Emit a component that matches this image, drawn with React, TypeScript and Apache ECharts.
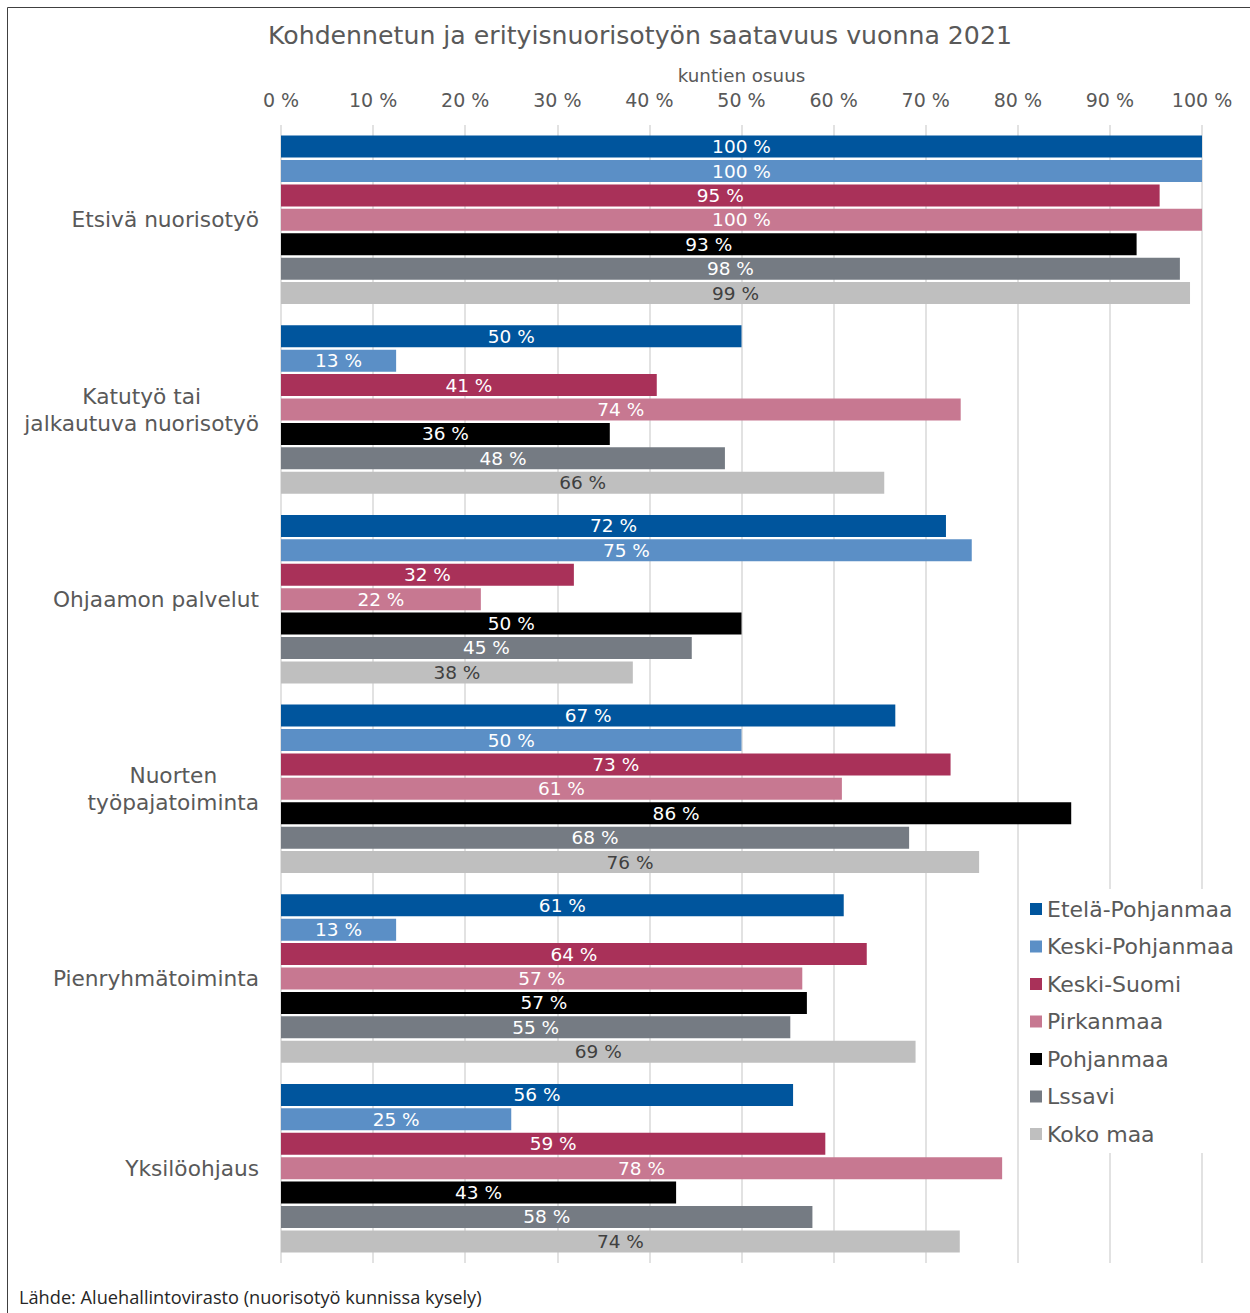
import React, { useEffect, useRef } from "react";
import * as echarts from "echarts";

const titleText = "Kohdennetun ja erityisnuorisotyön saatavuus vuonna 2021";
const axisName = "kuntien osuus";
const sourceText = "Lähde: Aluehallintovirasto (nuorisotyö kunnissa kysely)";

const categories = [
  "Etsivä nuorisotyö",
  "Katutyö tai\njalkautuva nuorisotyö",
  "Ohjaamon palvelut",
  "Nuorten\ntyöpajatoiminta",
  "Pienryhmätoiminta",
  "Yksilöohjaus",
];

const seriesNames = [
  "Etelä-Pohjanmaa",
  "Keski-Pohjanmaa",
  "Keski-Suomi",
  "Pirkanmaa",
  "Pohjanmaa",
  "Lssavi",
  "Koko maa",
];

const etelaPohjanmaa = [100, 50, 72.2, 66.7, 61.1, 55.6];
const keskiPohjanmaa = [100, 12.5, 75, 50, 12.5, 25];
const keskiSuomi = [95.4, 40.8, 31.8, 72.7, 63.6, 59.1];
const pirkanmaa = [100, 73.8, 21.7, 60.9, 56.6, 78.3];
const pohjanmaa = [92.9, 35.7, 50, 85.8, 57.1, 42.9];
const lssavi = [97.6, 48.2, 44.6, 68.2, 55.3, 57.7];
const kokoMaa = [98.7, 65.5, 38.2, 75.8, 68.9, 73.7];

const seriesData = [etelaPohjanmaa, keskiPohjanmaa, keskiSuomi, pirkanmaa, pohjanmaa, lssavi, kokoMaa];

const colors = ["#00559D", "#5B8FC6", "#A93159", "#C77891", "#000000", "#757B83", "#BFBFBF"];
const labelColors = ["#ffffff", "#ffffff", "#ffffff", "#ffffff", "#ffffff", "#ffffff", "#404040"];

const FONT = "'DejaVu Sans', Verdana, sans-serif";
const TEXT = "#595959";

export default function App() {
  const ref = useRef<HTMLDivElement>(null);
  useEffect(() => {
    document.body.style.margin = "0";
    const chart = echarts.init(ref.current!, null, { renderer: "svg" });
    const option: any = {
      animation: false,
      backgroundColor: "#ffffff",
      textStyle: { fontFamily: FONT },
      title: [
        {
          text: titleText,
          left: 263,
          top: 18,
          textStyle: { fontFamily: FONT, fontSize: 25.2, fontWeight: "normal", color: TEXT },
        },
        {
          text: sourceText,
          left: 14,
          top: 1283,
          textStyle: { fontFamily: "'Open Sans', 'Noto Sans', sans-serif", fontSize: 18.2, fontWeight: "normal", color: "#262626" },
        },
      ],
      graphic: [
        {
          type: "rect",
          shape: { x: 7.5, y: 7.5, width: 1400, height: 1400 },
          style: { fill: "none", stroke: "#404040", lineWidth: 1 },
          silent: true,
          z: 100,
        },
      ],
      legend: {
        orient: "vertical",
        left: 1022,
        top: 889,
        padding: [9, 8, 8, 8],
        backgroundColor: "#ffffff",
        itemWidth: 12,
        itemHeight: 12,
        itemGap: 15.5,
        icon: "rect",
        textStyle: { fontFamily: FONT, fontSize: 22, color: TEXT, lineHeight: 22 },
        data: seriesNames,
        z: 10,
      },
      grid: { left: 281, right: 48, top: 125, bottom: 50, containLabel: false },
      xAxis: {
        type: "value",
        position: "top",
        min: 0,
        max: 100,
        interval: 10,
        name: axisName,
        nameLocation: "middle",
        nameGap: 41,
        nameTextStyle: { fontFamily: FONT, fontSize: 18.3, color: TEXT },
        axisLine: { show: false },
        axisTick: { show: false },
        axisLabel: { formatter: "{value} %", fontFamily: FONT, fontSize: 19, color: TEXT, margin: 16 },
        splitLine: { show: true, lineStyle: { color: "#D9D9D9", width: 1.5 } },
      },
      yAxis: {
        type: "category",
        inverse: true,
        data: categories,
        axisLine: { show: false },
        axisTick: { show: false },
        axisLabel: {
          margin: 22,
          align: "right",
          formatter: (v: string) => v.split("\n").map((l) => `{c|${l}}`).join("\n"),
          rich: {
            c: { align: "center", fontFamily: FONT, fontSize: 21.7, color: TEXT, lineHeight: 27 },
          },
        },
      },
      series: seriesNames.map((name, i) => ({
        name,
        type: "bar",
        data: seriesData[i],
        itemStyle: { color: colors[i] },
        barGap: "11%",
        barCategoryGap: "11.2%",
        label: {
          show: true,
          position: "inside",
          formatter: (p: any) => `${Math.round(p.value)} %`,
          fontFamily: FONT,
          fontSize: 18.5,
          color: labelColors[i],
        },
      })),
    };
    chart.setOption(option);
    return () => chart.dispose();
  }, []);
  return <div ref={ref} style={{ width: 1250, height: 1313 }} />;
}
